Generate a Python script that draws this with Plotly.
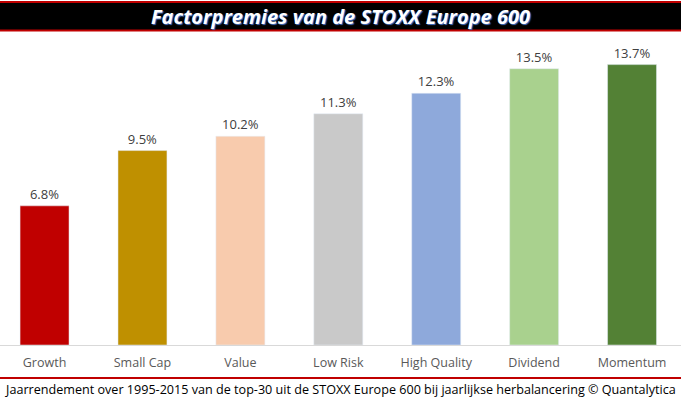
import plotly.graph_objects as go

categories = ["Growth", "Small Cap", "Value", "Low Risk", "High Quality", "Dividend", "Momentum"]
values = [6.8, 9.5, 10.2, 11.3, 12.3, 13.5, 13.7]
colors = ["#C00000", "#BF9000", "#F8CBAD", "#C9C9C9", "#8EA9DB", "#A9D18E", "#538135"]
labels = [f"{v:.1f}%" for v in values]

title_text = "Factorpremies van de STOXX Europe 600"
footer_text = "Jaarrendement over 1995-2015 van de top-30 uit de STOXX Europe 600 bij jaarlijkse herbalancering © Quantalytica"

W, H = 681, 399
T, B = 38, 54
plot_h = H - T - B


def py(pix):
    # pixel row -> paper y
    return (H - B - pix) / plot_h


fig = go.Figure(go.Bar(
    x=categories, y=values, marker_color=colors, width=0.5,
    text=labels, textposition="outside",
    textfont=dict(family="Open Sans", size=13, color="#404040"),
    cliponaxis=False,
))

fig.update_layout(
    width=W, height=H,
    margin=dict(l=0, r=0, t=T, b=B),
    plot_bgcolor="white", paper_bgcolor="white",
    showlegend=False,
    xaxis=dict(range=[-0.455, 6.5], showline=True, linecolor="#D9D9D9", linewidth=1,
               ticks="", ticklabelstandoff=6,
               tickfont=dict(family="Open Sans", size=12.5, color="#595959"),
               showgrid=False, fixedrange=True),
    yaxis=dict(range=[0, 15], visible=False, fixedrange=True),
    shapes=[
        dict(type="rect", xref="paper", yref="paper", x0=-0.01, x1=1.01,
             y0=py(31.5), y1=py(1), fillcolor="#C00000", line_width=0, layer="below"),
        dict(type="rect", xref="paper", yref="paper", x0=-0.01, x1=1.01,
             y0=py(29.5), y1=py(3), fillcolor="black", line_width=0, layer="below"),
        dict(type="line", xref="paper", yref="paper", x0=-0.01, x1=1.01,
             y0=py(378), y1=py(378), line=dict(color="#C00000", width=2)),
    ],
    annotations=[
        dict(text=f"<b><i>{title_text}</i></b>", xref="paper", yref="paper",
             x=0.5, y=py(16.5), showarrow=False, xanchor="center", yanchor="middle",
             font=dict(family="Open Sans", size=20, color="white", shadow="1px 1px 1px #4472C4")),
        dict(text=footer_text, xref="paper", yref="paper",
             x=0.003, y=py(389.5), showarrow=False, xanchor="left", yanchor="middle",
             font=dict(family="Open Sans", size=12.6, color="black")),
    ],
)

fig.write_html("out.html", config={"displayModeBar": False},
               post_script="document.body.style.margin='0';document.body.style.padding='0';")
